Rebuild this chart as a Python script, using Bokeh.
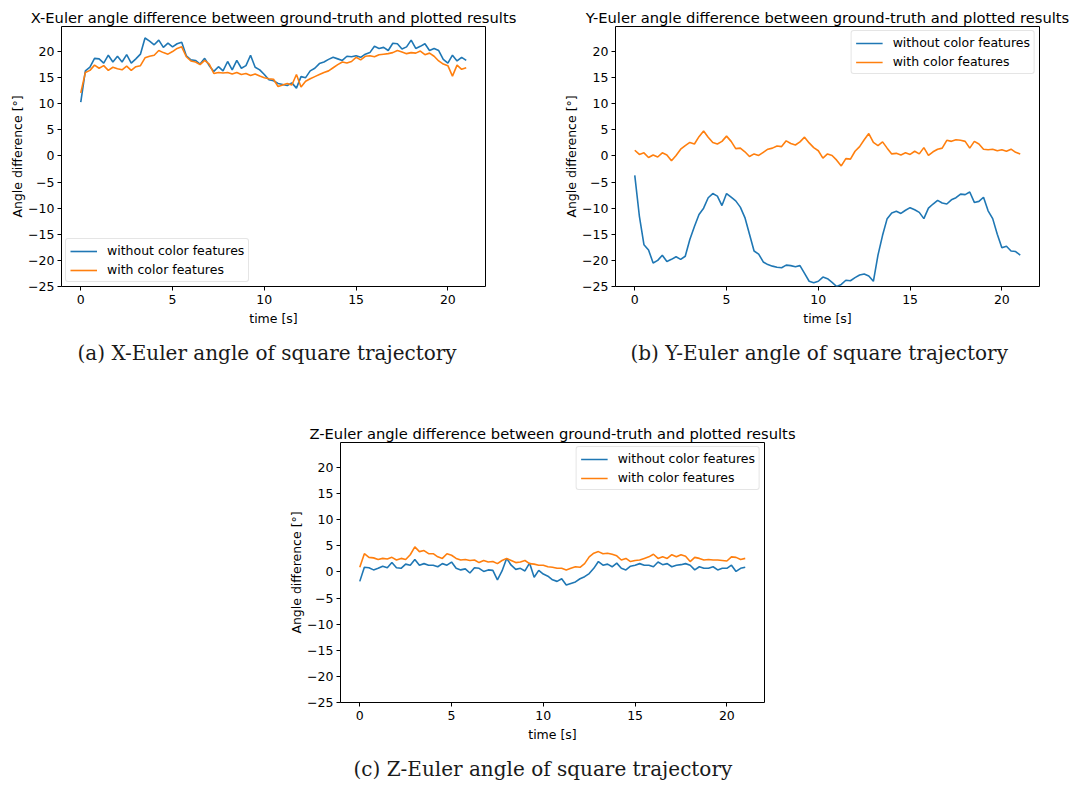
from bokeh.plotting import figure
from bokeh.layouts import column, row, Spacer
from bokeh.models import (Range1d, FixedTicker, Title, CustomJSTickFormatter)
from bokeh.embed import file_html
from bokeh.resources import INLINE

# ---------------- data ----------------
T = [i * 0.25 for i in range(85)]  # time [s], sampled every 0.25 s

X_WITHOUT = [10.3, 16.3, 17.0, 18.7, 18.6, 17.8, 19.3, 18.0, 19.1, 18.0, 19.4, 17.8,
             18.6, 19.5, 22.6, 22.0, 21.3, 22.2, 20.8, 21.6, 20.9, 21.5, 21.8, 19.2,
             18.4, 18.3, 17.6, 18.7, 17.3, 16.2, 17.1, 16.3, 18.1, 16.5, 18.3, 16.8,
             17.3, 19.3, 17.0, 16.5, 15.6, 14.6, 14.4, 13.9, 13.7, 13.5, 14.0, 13.0,
             15.2, 15.0, 16.3, 16.8, 17.7, 18.0, 18.5, 18.9, 18.6, 18.3, 19.1, 19.0,
             19.2, 18.9, 19.5, 19.8, 21.0, 20.6, 20.8, 20.2, 21.6, 21.5, 20.5, 20.9,
             22.2, 20.6, 21.0, 21.5, 20.2, 20.6, 20.2, 18.5, 17.8, 19.3, 18.2, 18.9,
             18.3]
X_WITH = [12.1, 16.0, 16.4, 17.4, 16.8, 17.3, 16.4, 17.0, 16.7, 16.5, 17.2, 16.4,
          17.1, 17.3, 18.8, 19.1, 19.3, 20.2, 19.8, 19.5, 20.0, 20.6, 20.9, 19.0,
          18.2, 18.0, 17.5, 18.3, 17.6, 15.8, 16.0, 15.9, 16.0, 15.7, 16.0, 15.6,
          15.8, 15.4, 15.7, 15.3, 15.0, 14.8, 14.7, 13.3, 13.6, 13.9, 13.6, 15.6,
          13.2, 14.3, 14.8, 15.2, 15.6, 16.0, 16.3, 16.9, 17.5, 18.0, 17.8, 18.1,
          18.9, 18.4, 19.1, 19.2, 19.0, 19.4, 19.5, 19.6, 19.8, 20.2, 19.9, 19.6,
          19.8, 19.7, 20.1, 19.4, 19.7, 19.1, 18.2, 17.6, 17.3, 15.3, 17.4, 16.6,
          16.9]

Y_WITHOUT = [-3.7, -11.5, -17.0, -18.0, -20.5, -20.0, -19.0, -20.2, -19.8, -19.3, -19.8, -19.2,
             -16.0, -13.5, -11.2, -10.0, -8.0, -7.2, -7.7, -9.5, -7.2, -7.9, -8.6, -9.8,
             -11.8, -15.0, -18.2, -18.8, -20.3, -20.8, -21.1, -21.3, -21.4, -20.9, -21.0, -21.2,
             -21.0, -22.5, -24.0, -24.3, -24.0, -23.2, -23.5, -24.2, -25.0, -24.6, -23.8, -23.9,
             -23.3, -22.8, -22.6, -23.0, -24.0, -19.0, -15.2, -12.0, -10.9, -10.6, -11.0, -10.4,
             -9.9, -10.3, -10.8, -12.0, -10.0, -9.2, -8.5, -9.0, -9.2, -8.4, -8.0, -7.3,
             -7.4, -6.9, -8.9, -8.7, -7.9, -10.5, -12.0, -15.0, -17.6, -17.3, -18.2, -18.3,
             -19.0]
Y_WITH = [1.1, 0.3, 0.6, -0.3, 0.2, -0.2, 0.6, 0.2, -0.9, 0.1, 1.3, 2.0,
          2.6, 2.3, 3.7, 4.8, 3.6, 2.6, 2.3, 2.8, 3.8, 2.8, 1.4, 1.5,
          0.8, -0.1, 0.4, 0.1, 0.7, 1.3, 1.5, 1.9, 1.8, 2.9, 2.4, 2.1,
          2.7, 3.6, 2.5, 1.6, 1.0, -0.4, 0.4, 0.1, -0.8, -1.9, -0.5, -0.6,
          0.9, 1.8, 3.1, 4.3, 2.6, 2.0, 2.7, 1.5, 0.4, 0.5, 0.2, 0.6,
          0.3, 0.9, 0.4, 1.6, 0.1, 0.8, 1.3, 1.5, 3.0, 2.8, 3.1, 3.0,
          2.8, 1.5, 2.8, 2.3, 1.3, 1.2, 1.3, 1.0, 1.2, 0.9, 1.3, 0.7,
          0.4]

Z_WITHOUT = [-1.8, 0.9, 0.8, 0.4, 0.7, 1.1, 0.8, 1.8, 0.8, 0.7, 1.5, 1.3,
             2.4, 1.3, 1.6, 1.3, 1.3, 1.0, 1.6, 1.3, 1.9, 0.7, 0.4, 0.6,
             -0.2, 0.8, 0.7, 0.1, 0.4, 0.3, -1.5, 0.2, 2.6, 1.3, 0.5, 0.7,
             0.2, 1.7, -1.0, 0.3, -0.4, -0.8, -1.5, -1.8, -1.3, -2.5, -2.2, -1.9,
             -1.3, -0.9, -0.3, 0.7, 2.0, 1.3, 1.5, 1.0, 1.7, 0.7, 0.4, 1.1,
             1.3, 1.6, 1.3, 1.3, 1.0, 1.9, 1.4, 1.6, 1.0, 1.3, 1.4, 1.6,
             1.3, 0.4, 1.0, 0.7, 0.7, 1.0, 0.4, 0.7, 0.7, 1.3, 0.1, 0.7,
             0.9]
Z_WITH = [0.9, 3.5, 2.8, 2.7, 2.4, 2.6, 2.5, 2.8, 2.3, 2.6, 2.4, 3.3,
          4.8, 3.9, 4.1, 3.5, 3.5, 2.9, 2.6, 3.5, 3.2, 2.6, 2.3, 2.4,
          2.2, 2.3, 1.8, 2.2, 1.9, 2.0, 1.6, 2.2, 2.6, 2.2, 1.8, 1.9,
          2.2, 1.6, 1.5, 1.3, 1.3, 1.0, 0.9, 0.7, 0.7, 0.4, 0.7, 1.0,
          0.9, 1.6, 2.9, 3.6, 3.9, 3.5, 3.6, 3.4, 3.1, 2.3, 2.6, 2.0,
          2.2, 2.3, 2.6, 2.9, 3.4, 2.6, 2.9, 2.6, 3.3, 2.9, 3.3, 3.0,
          2.0, 2.8, 2.6, 2.3, 2.4, 2.3, 2.3, 2.2, 2.1, 2.9, 2.8, 2.4,
          2.6]

X_TICKS = [0, 5, 10, 15, 20]
Y_TICKS = [-25, -20, -15, -10, -5, 0, 5, 10, 15, 20]
LABELS = ["without color features", "with color features"]
TITLES = ["X-Euler angle difference between ground-truth and plotted results",
          "Y-Euler angle difference between ground-truth and plotted results",
          "Z-Euler angle difference between ground-truth and plotted results"]
CAPTIONS = ["(a) X-Euler angle of square trajectory",
            "(b) Y-Euler angle of square trajectory",
            "(c) Z-Euler angle of square trajectory"]

BLUE = "#1f77b4"
ORANGE = "#ff7f0e"
SANS = "DejaVu Sans"
SERIF = "DejaVu Serif"


def make(title, caption, y1, y2, legend_loc, mbr, mbb, cap_offset):
    p = figure(frame_width=424, frame_height=260, output_backend="svg", toolbar_location=None,
               x_range=Range1d(-1.05, 22.05), y_range=Range1d(-25, 24.8),
               min_border_left=40, min_border_right=mbr,
               min_border_top=26, min_border_bottom=mbb)
    p.title.text = title
    p.title.align = "center"
    p.title.text_font = SANS
    p.title.text_font_size = "14.7px"
    p.title.text_font_style = "normal"
    p.title.text_color = "#000000"
    p.title.standoff = 2

    p.line(T, y1, line_color=BLUE, line_width=1.6, legend_label=LABELS[0])
    p.line(T, y2, line_color=ORANGE, line_width=1.6, legend_label=LABELS[1])

    p.xgrid.visible = False
    p.ygrid.visible = False
    p.outline_line_color = "#000000"
    p.outline_line_width = 1
    p.outline_line_alpha = 1

    fmt = CustomJSTickFormatter(code="return String(tick).replace('-', '\u2212');")
    for ax in (p.xaxis[0], p.yaxis[0]):
        ax.axis_line_color = None
        ax.major_tick_line_color = "#000000"
        ax.major_tick_in = 0
        ax.major_tick_out = 4
        ax.minor_tick_line_color = None
        ax.major_label_text_font = SANS
        ax.major_label_text_font_size = "12.5px"
        ax.major_label_text_color = "#000000"
        ax.axis_label_text_font = SANS
        ax.axis_label_text_font_size = "12.5px"
        ax.axis_label_text_font_style = "normal"
        ax.axis_label_text_color = "#000000"
        ax.formatter = fmt
    p.xaxis[0].ticker = FixedTicker(ticks=X_TICKS)
    p.yaxis[0].ticker = FixedTicker(ticks=Y_TICKS)
    p.xaxis[0].axis_label = "time [s]"
    p.yaxis[0].axis_label = "Angle difference [°]"
    p.xaxis[0].major_label_standoff = 4
    p.xaxis[0].axis_label_standoff = 4
    p.yaxis[0].major_label_standoff = 3
    p.yaxis[0].axis_label_standoff = 0

    lg = p.legend[0]
    lg.location = legend_loc
    lg.label_text_font = SANS
    lg.label_text_font_size = "12.5px"
    lg.label_text_color = "#000000"
    lg.border_line_color = "#cccccc"
    lg.border_line_width = 1
    lg.background_fill_alpha = 0.8
    lg.glyph_width = 27
    lg.glyph_height = 14
    lg.label_height = 14
    lg.label_standoff = 10
    lg.spacing = 4
    lg.padding = 4
    lg.margin = 4
    try:
        lg.border_radius = 3
    except Exception:
        pass

    cap = Title(text=caption, align="left", offset=cap_offset, text_font=SERIF,
                text_font_size="20px", text_font_style="normal", text_color="#1a1a1a",
                standoff=20)
    p.add_layout(cap, "below")
    return p


pa = make(TITLES[0], CAPTIONS[0], X_WITHOUT, X_WITH, "bottom_left", 76, 130, 16)
pb = make(TITLES[1], CAPTIONS[1], Y_WITHOUT, Y_WITH, "top_right", 38, 130, 15)
pc = make(TITLES[2], CAPTIONS[2], Z_WITHOUT, Z_WITH, "top_right", 40, 76, 13)

layout = column(row(Spacer(width=7, height=10), pa, pb),
                row(Spacer(width=286, height=362), pc))

open("out.html", "w").write(file_html(layout, INLINE))
